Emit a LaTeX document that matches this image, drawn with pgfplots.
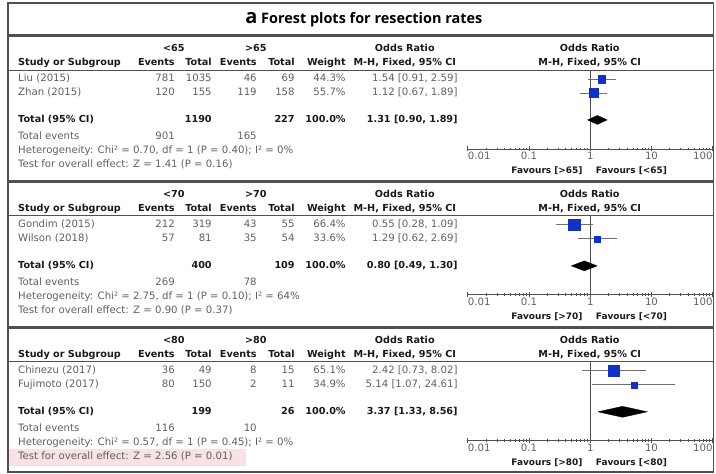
\documentclass[border=0pt]{standalone}
\usepackage{pgfplots}
\pgfplotsset{compat=1.18}
\usepackage{fontspec}
\setmainfont{DejaVu Sans}
\newfontfamily\titlefont{Open Sans}
\definecolor{txtgray}{HTML}{606060}
\definecolor{framec}{HTML}{505050}
\definecolor{sqblue}{HTML}{1030C8}
\definecolor{cigray}{HTML}{707070}
\definecolor{pinkbg}{HTML}{F8E2E2}
\tikzset{
  txt/.style={font=\fontsize{10.2}{12}\selectfont, text=txtgray, inner sep=0pt},
  bld/.style={font=\fontsize{9.7}{12}\selectfont\bfseries, text=black!90, inner sep=0pt},
  fav/.style={font=\fontsize{9}{11}\selectfont\bfseries, text=black!90, inner sep=0pt},
}
\newcommand\TL[3]{\node[txt,anchor=mid west] at (#1,{474-#2}) {#3};}
\newcommand\TR[3]{\node[txt,anchor=mid east] at (#1,{474-#2}) {#3};}
\newcommand\BL[3]{\node[bld,anchor=mid west] at (#1,{474-#2}) {#3};}
\newcommand\BR[3]{\node[bld,anchor=mid east] at (#1,{474-#2}) {#3};}
\newcommand\BC[3]{\node[bld,anchor=mid] at (#1,{474-#2}) {#3};}
\newcommand\FAV[3]{\node[fav,anchor=mid east] at (583,{474-#1}) {Favours [#2]};
  \node[fav,anchor=mid west] at (596,{474-#1}) {Favours [#3]};}
\pgfplotsset{
  ci/.style={cigray, line width=0.8pt, no marks},
  sq/.style={only marks, mark=square*, mark options={fill=sqblue, draw=sqblue}},
  dia/.style={fill=black, draw=black, line width=0.3pt, no marks},
}
\newcommand\ticklabs{%
  \node[txt,anchor=north west] at (axis cs:0.01,0) [yshift=-3bp] {0.01};
  \node[txt,anchor=north] at (axis cs:0.1,0) [yshift=-3bp] {0.1};
  \node[txt,anchor=north] at (axis cs:1,0) [yshift=-3bp] {1};
  \node[txt,anchor=north] at (axis cs:10,0) [yshift=-3bp] {10};
  \node[txt,anchor=north east] at (axis cs:100,0) [yshift=-3bp] {100};
  \draw[framec, line width=0.8pt] (axis cs:1,0) -- (axis cs:1,79);
}
\begin{document}
\begin{tikzpicture}[x=1bp,y=1bp]
\path (0,0) rectangle (716,474);
% pink highlight
\fill[pinkbg] (9,{474-449}) rectangle (246,{474-466});
% frames
\draw[framec, line width=1.6bp] (8,{474-3}) rectangle (714,{474-472});
\draw[framec, line width=3bp] (8,{474-36}) -- (714,{474-36});
\draw[framec, line width=3bp] (8,{474-182}) -- (714,{474-182});
\draw[framec, line width=3bp] (8,{474-328}) -- (714,{474-328});
\draw[framec, line width=0.8bp] (8,{474-70}) -- (714,{474-70});
\draw[framec, line width=0.8bp] (8,{474-216}) -- (714,{474-216});
\draw[framec, line width=0.8bp] (8,{474-362}) -- (714,{474-362});
% title
\node[inner sep=0pt, font=\titlefont\fontsize{14.5}{17}\selectfont\bfseries] at (364,{474-19.5})
  {{\fontsize{20}{20}\selectfont a}\ Forest plots for resection rates};

% ===================== Panel 1 =====================
\BC{174}{49}{<65} \BC{256}{49}{>65} \BC{405}{49}{Odds Ratio} \BC{590}{49}{Odds Ratio}
\BL{18}{63}{Study or Subgroup} \BR{175}{63}{Events} \BR{212}{63}{Total}
\BR{257}{63}{Events} \BR{295}{63}{Total} \BR{346}{63}{Weight}
\BC{405}{63}{M-H, Fixed, 95\% CI} \BC{590}{63}{M-H, Fixed, 95\% CI}
\TL{18}{79}{Liu (2015)} \TR{175}{79}{781} \TR{212}{79}{1035} \TR{257}{79}{46} \TR{295}{79}{69} \TR{346}{79}{44.3\%} \TR{458}{79}{1.54 [0.91, 2.59]}
\TL{18}{93}{Zhan (2015)} \TR{175}{93}{120} \TR{212}{93}{155} \TR{257}{93}{119} \TR{295}{93}{158} \TR{346}{93}{55.7\%} \TR{458}{93}{1.12 [0.67, 1.89]}
\BL{18}{120}{Total (95\% CI)} \BR{212}{120}{1190} \BR{295}{120}{227} \BR{346}{120}{100.0\%} \BR{458}{120}{1.31 [0.90, 1.89]}
\TL{18}{137}{Total events} \TR{175}{137}{901} \TR{257}{137}{165}
\TL{18}{151}{Heterogeneity: Chi² = 0.70, df = 1 (P = 0.40); I² = 0\%}
\TL{18}{165}{Test for overall effect: Z = 1.41 (P = 0.16)}
\FAV{171}{>65}{<65}
\begin{axis}[at={(468bp,325bp)},
    anchor=south west, scale only axis, width=245bp, height=79bp,
    xmode=log, xmin=0.01, xmax=100, ymin=0, ymax=79,
    axis x line*=bottom, hide y axis, clip=false,
    xtick={0.01,0.1,1,10,100}, xticklabels={}, minor xtick={},
    axis line style={draw=framec, line width=0.8pt},
    tick style={draw=framec, line width=0.8pt},
    major tick length=5bp, xtick align=center]
\ticklabs
\addplot[ci] coordinates {(0.91,70) (2.59,70)};
\addplot[ci] coordinates {(0.67,56) (1.89,56)};
\addplot[sq, mark size=3.8bp] coordinates {(1.54,70)};
\addplot[sq, mark size=4.5bp] coordinates {(1.12,56)};
\addplot[dia] coordinates {(0.90,29) (1.31,33.5) (1.89,29) (1.31,24.5) (0.90,29)};
\end{axis}

% ===================== Panel 2 =====================
\BC{174}{195}{<70} \BC{256}{195}{>70} \BC{405}{195}{Odds Ratio} \BC{590}{195}{Odds Ratio}
\BL{18}{209}{Study or Subgroup} \BR{175}{209}{Events} \BR{212}{209}{Total}
\BR{257}{209}{Events} \BR{295}{209}{Total} \BR{346}{209}{Weight}
\BC{405}{209}{M-H, Fixed, 95\% CI} \BC{590}{209}{M-H, Fixed, 95\% CI}
\TL{18}{225}{Gondim (2015)} \TR{175}{225}{212} \TR{212}{225}{319} \TR{257}{225}{43} \TR{295}{225}{55} \TR{346}{225}{66.4\%} \TR{458}{225}{0.55 [0.28, 1.09]}
\TL{18}{239}{Wilson (2018)} \TR{175}{239}{57} \TR{212}{239}{81} \TR{257}{239}{35} \TR{295}{239}{54} \TR{346}{239}{33.6\%} \TR{458}{239}{1.29 [0.62, 2.69]}
\BL{18}{266}{Total (95\% CI)} \BR{212}{266}{400} \BR{295}{266}{109} \BR{346}{266}{100.0\%} \BR{458}{266}{0.80 [0.49, 1.30]}
\TL{18}{283}{Total events} \TR{175}{283}{269} \TR{257}{283}{78}
\TL{18}{297}{Heterogeneity: Chi² = 2.75, df = 1 (P = 0.10); I² = 64\%}
\TL{18}{311}{Test for overall effect: Z = 0.90 (P = 0.37)}
\FAV{317}{>70}{<70}
\begin{axis}[at={(468bp,179bp)},
    anchor=south west, scale only axis, width=245bp, height=79bp,
    xmode=log, xmin=0.01, xmax=100, ymin=0, ymax=79,
    axis x line*=bottom, hide y axis, clip=false,
    xtick={0.01,0.1,1,10,100}, xticklabels={}, minor xtick={},
    axis line style={draw=framec, line width=0.8pt},
    tick style={draw=framec, line width=0.8pt},
    major tick length=5bp, xtick align=center]
\ticklabs
\addplot[ci] coordinates {(0.28,70) (1.09,70)};
\addplot[ci] coordinates {(0.62,56) (2.69,56)};
\addplot[sq, mark size=5.7bp] coordinates {(0.55,70)};
\addplot[sq, mark size=3bp] coordinates {(1.29,56)};
\addplot[dia] coordinates {(0.49,29) (0.80,34) (1.30,29) (0.80,24) (0.49,29)};
\end{axis}

% ===================== Panel 3 =====================
\BC{174}{341}{<80} \BC{256}{341}{>80} \BC{405}{341}{Odds Ratio} \BC{590}{341}{Odds Ratio}
\BL{18}{355}{Study or Subgroup} \BR{175}{355}{Events} \BR{212}{355}{Total}
\BR{257}{355}{Events} \BR{295}{355}{Total} \BR{346}{355}{Weight}
\BC{405}{355}{M-H, Fixed, 95\% CI} \BC{590}{355}{M-H, Fixed, 95\% CI}
\TL{18}{371}{Chinezu (2017)} \TR{175}{371}{36} \TR{212}{371}{49} \TR{257}{371}{8} \TR{295}{371}{15} \TR{346}{371}{65.1\%} \TR{458}{371}{2.42 [0.73, 8.02]}
\TL{18}{385}{Fujimoto (2017)} \TR{175}{385}{80} \TR{212}{385}{150} \TR{257}{385}{2} \TR{295}{385}{11} \TR{346}{385}{34.9\%} \TR{458}{385}{5.14 [1.07, 24.61]}
\BL{18}{412}{Total (95\% CI)} \BR{212}{412}{199} \BR{295}{412}{26} \BR{346}{412}{100.0\%} \BR{458}{412}{3.37 [1.33, 8.56]}
\TL{18}{429}{Total events} \TR{175}{429}{116} \TR{257}{429}{10}
\TL{18}{443}{Heterogeneity: Chi² = 0.57, df = 1 (P = 0.45); I² = 0\%}
\TL{18}{457}{Test for overall effect: Z = 2.56 (P = 0.01)}
\FAV{463}{>80}{<80}
\begin{axis}[at={(468bp,33bp)},
    anchor=south west, scale only axis, width=245bp, height=79bp,
    xmode=log, xmin=0.01, xmax=100, ymin=0, ymax=79,
    axis x line*=bottom, hide y axis, clip=false,
    xtick={0.01,0.1,1,10,100}, xticklabels={}, minor xtick={},
    axis line style={draw=framec, line width=0.8pt},
    tick style={draw=framec, line width=0.8pt},
    major tick length=5bp, xtick align=center]
\ticklabs
\addplot[ci] coordinates {(0.73,70) (8.02,70)};
\addplot[ci] coordinates {(1.07,56) (24.61,56)};
\addplot[sq, mark size=5.7bp] coordinates {(2.42,70)};
\addplot[sq, mark size=3bp] coordinates {(5.14,56)};
\addplot[dia] coordinates {(1.33,29) (3.37,34.5) (8.56,29) (3.37,23.5) (1.33,29)};
\end{axis}
\end{tikzpicture}
\end{document}
